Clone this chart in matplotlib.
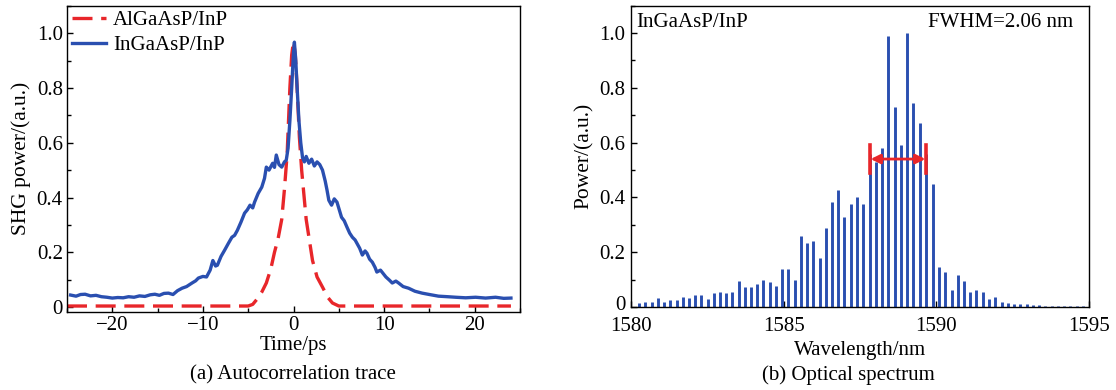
import matplotlib
matplotlib.use("Agg")
import matplotlib.pyplot as plt
from matplotlib.ticker import MultipleLocator, FixedLocator
from matplotlib.transforms import ScaledTranslation

plt.rcParams['font.family'] = ['Liberation Serif', 'DejaVu Serif']
plt.rcParams['mathtext.fontset'] = 'stix'

# ---------------- data: (a) autocorrelation ----------------
ingaasp_t = [-24.6, -24.0, -23.5, -23.0, -22.4, -21.8, -21.2, -20.6, -20.0, -19.4,
             -18.8, -18.2, -17.6, -17.0, -16.4, -15.8, -15.3, -14.8, -14.3, -13.8,
             -13.3, -12.8, -12.3, -11.8, -11.2, -10.8, -10.5, -10.0, -9.6, -9.2,
             -8.9, -8.6, -8.4, -8.0, -7.6, -7.2, -6.8, -6.5, -6.2, -5.8,
             -5.4, -5.1, -4.8, -4.5, -4.3, -3.9, -3.5, -3.2, -3.0, -2.7,
             -2.3, -2.1, -1.9, -1.6, -1.3, -1.0, -0.8, -0.6, -0.4, -0.2,
             0.0, 0.1, 0.25, 0.4, 0.6, 0.8, 1.0, 1.2, 1.4, 1.7,
             2.0, 2.3, 2.6, 2.9, 3.2, 3.5, 3.7, 3.9, 4.2, 4.5,
             4.8, 5.1, 5.3, 5.6, 5.9, 6.2, 6.5, 6.8, 7.0, 7.3,
             7.6, 7.9, 8.1, 8.4, 8.7, 9.0, 9.2, 9.6, 10.2, 10.6,
             10.9, 11.3, 11.6, 12.1, 12.7, 13.4, 14.2, 15.0, 16.0, 17.0,
             17.9, 19.0, 20.1, 21.2, 22.3, 23.2, 24.0]
ingaasp_p = [0.044, 0.040, 0.046, 0.047, 0.041, 0.043, 0.038, 0.036, 0.033, 0.035,
             0.034, 0.038, 0.036, 0.041, 0.039, 0.045, 0.047, 0.043, 0.050, 0.051,
             0.046, 0.060, 0.069, 0.075, 0.088, 0.096, 0.106, 0.112, 0.110, 0.135,
             0.170, 0.150, 0.153, 0.185, 0.208, 0.232, 0.255, 0.262, 0.280, 0.310,
             0.343, 0.355, 0.372, 0.362, 0.383, 0.415, 0.438, 0.470, 0.511, 0.500,
             0.525, 0.510, 0.555, 0.520, 0.511, 0.530, 0.536, 0.580, 0.680, 0.800,
             0.930, 0.967, 0.900, 0.800, 0.680, 0.600, 0.545, 0.530, 0.550, 0.525,
             0.540, 0.515, 0.530, 0.520, 0.500, 0.460, 0.427, 0.390, 0.372, 0.395,
             0.383, 0.350, 0.328, 0.315, 0.292, 0.270, 0.255, 0.245, 0.233, 0.215,
             0.190, 0.205, 0.197, 0.175, 0.164, 0.145, 0.128, 0.135, 0.110, 0.098,
             0.088, 0.095, 0.088, 0.075, 0.069, 0.058, 0.051, 0.046, 0.040, 0.038,
             0.036, 0.034, 0.036, 0.033, 0.036, 0.032, 0.033]

algaasp_t = [-25.0, -10.0, -5.0, -4.5, -4.0, -3.5, -3.0, -2.5, -2.1, -1.7, -1.3, -1.0,
             -0.7, -0.4, -0.2, 0.0, 0.2, 0.4, 0.65, 0.9, 1.4, 2.1, 2.6, 3.2, 3.8,
             4.3, 5.0, 10.0, 24.0]
algaasp_p = [0.004, 0.004, 0.004, 0.010, 0.030, 0.055, 0.088, 0.140, 0.200, 0.250,
             0.320, 0.430, 0.560, 0.800, 0.920, 0.970, 0.920, 0.800, 0.620, 0.500,
             0.320, 0.170, 0.110, 0.073, 0.035, 0.015, 0.004, 0.004, 0.004]

# ---------------- data: (b) optical spectrum ----------------
mode_wl = [1580.26, 1580.46, 1580.68, 1580.87, 1581.08, 1581.29, 1581.50, 1581.70,
           1581.90, 1582.10, 1582.30, 1582.51, 1582.71, 1582.90, 1583.11, 1583.32,
           1583.54, 1583.72, 1583.92, 1584.14, 1584.33, 1584.54, 1584.75, 1584.96,
           1585.15, 1585.36, 1585.57, 1585.77, 1585.96, 1586.18, 1586.39, 1586.58,
           1586.79, 1586.99, 1587.21, 1587.40, 1587.61, 1587.82, 1588.02, 1588.22,
           1588.43, 1588.63, 1588.84, 1589.04, 1589.25, 1589.46, 1589.67, 1589.88,
           1590.08, 1590.28, 1590.50, 1590.70, 1590.90, 1591.11, 1591.31, 1591.52,
           1591.73, 1591.92, 1592.14, 1592.34, 1592.55, 1592.75, 1592.96, 1593.16,
           1593.37, 1593.57, 1593.78, 1593.98, 1594.19, 1594.39, 1594.60, 1594.80]
mode_pw = [0.016, 0.019, 0.019, 0.034, 0.019, 0.027, 0.027, 0.038,
           0.034, 0.043, 0.043, 0.031, 0.050, 0.056, 0.050, 0.053,
           0.095, 0.074, 0.074, 0.083, 0.099, 0.090, 0.077, 0.137,
           0.139, 0.100, 0.260, 0.235, 0.240, 0.180, 0.290, 0.385,
           0.427, 0.330, 0.376, 0.400, 0.376, 0.560, 0.530, 0.580,
           0.990, 0.730, 0.590, 1.000, 0.745, 0.670, 0.560, 0.450,
           0.145, 0.128, 0.062, 0.117, 0.095, 0.055, 0.062, 0.055,
           0.029, 0.037, 0.018, 0.015, 0.011, 0.011, 0.011, 0.008,
           0.009, 0.005, 0.004, 0.004, 0.004, 0.004, 0.004, 0.004]

fwhm_left, fwhm_right, fwhm_level = 1587.82, 1589.67, 0.54

BLUE = '#2a4fb0'
RED = '#e8262a'
FS = 15

fig = plt.figure(figsize=(11.16, 3.90), dpi=100)
ax1 = fig.add_axes([67/1116, 1-311.5/390, 453/1116, 305.8/390])
ax2 = fig.add_axes([631/1116, 1-307/390, 458/1116, 301.4/390])

# (a)
ax1.plot(algaasp_t, algaasp_p, color=RED, lw=2.4, ls=(0, (6, 2.6)), label='AlGaAsP/InP')
ax1.plot(ingaasp_t, ingaasp_p, color=BLUE, lw=2.4, label='InGaAsP/InP')
ax1.set_xlim(-25, 25)
ax1.set_ylim(-0.016, 1.1)
ax1.xaxis.set_major_locator(FixedLocator([-20, -10, 0, 10, 20]))
ax1.xaxis.set_minor_locator(MultipleLocator(5))
ax1.yaxis.set_major_locator(FixedLocator([0, 0.2, 0.4, 0.6, 0.8, 1.0]))
ax1.yaxis.set_minor_locator(MultipleLocator(0.1))
ax1.set_xticklabels(['\u221220', '\u221210', '0', '10', '20'])
ax1.set_yticklabels(['0', '0.2', '0.4', '0.6', '0.8', '1.0'])
ax1.set_xlabel('Time/ps', fontsize=FS, labelpad=1)
ax1.set_ylabel('SHG power/(a.u.)', fontsize=FS + 0.5, labelpad=4)
leg = ax1.legend(loc='upper left', bbox_to_anchor=(0.012, 0.985), frameon=False,
                 fontsize=FS, handlelength=1.6, handletextpad=0.35,
                 labelspacing=0.28, borderpad=0, borderaxespad=0)

# (b)
ax2.vlines(mode_wl, 0, mode_pw, color=BLUE, lw=2.1)
ax2.set_xlim(1580, 1595)
ax2.set_ylim(0, 1.1)
ax2.xaxis.set_major_locator(FixedLocator([1580, 1585, 1590, 1595]))
ax2.yaxis.set_major_locator(FixedLocator([0, 0.2, 0.4, 0.6, 0.8, 1.0]))
ax2.yaxis.set_minor_locator(MultipleLocator(0.1))
ax2.set_yticklabels(['0', '0.2', '0.4', '0.6', '0.8', '1.0'])
ax2.set_xlabel('Wavelength/nm', fontsize=FS, labelpad=4)
ax2.set_ylabel('Power/(a.u.)', fontsize=FS + 0.5, labelpad=4)

ax2.plot([fwhm_left, fwhm_left], [fwhm_level - 0.05, fwhm_level + 0.05], color=RED, lw=2.6)
ax2.plot([fwhm_right, fwhm_right], [fwhm_level - 0.05, fwhm_level + 0.05], color=RED, lw=2.6)
ax2.annotate('', xy=(fwhm_left + 0.03, fwhm_level), xytext=(fwhm_right - 0.03, fwhm_level),
             arrowprops=dict(arrowstyle='<|-|>', color=RED, lw=2.0,
                             mutation_scale=14, shrinkA=0, shrinkB=0))
ax2.text(0.012, 0.975, 'InGaAsP/InP', transform=ax2.transAxes, fontsize=FS,
         ha='left', va='top')
ax2.text(0.965, 0.975, 'FWHM=2.06 nm', transform=ax2.transAxes, fontsize=FS,
         ha='right', va='top')

for ax in (ax1, ax2):
    ax.tick_params(which='both', direction='in', top=False, right=False,
                   labelsize=FS, pad=3)
    ax.tick_params(which='major', length=4, width=1)
    ax.tick_params(which='minor', length=3, width=1)
    for s in ax.spines.values():
        s.set_linewidth(1.0)
ax2.tick_params(axis='x', which='both', pad=7)
ax2.tick_params(axis='y', which='both', pad=4)

# nudge the "0" label of the spectrum up slightly, as in the original
zero_lbl = ax2.get_yticklabels()[0]
zero_lbl.set_transform(zero_lbl.get_transform() +
                       ScaledTranslation(0, 3 / 72, fig.dpi_scale_trans))

fig.text(293/1116, 1-375/390, '(a) Autocorrelation trace', fontsize=FS,
         ha='center', va='center')
fig.text(848/1116, 1-375/390, '(b) Optical spectrum', fontsize=FS,
         ha='center', va='center')

fig.savefig('out.png', dpi=100)
